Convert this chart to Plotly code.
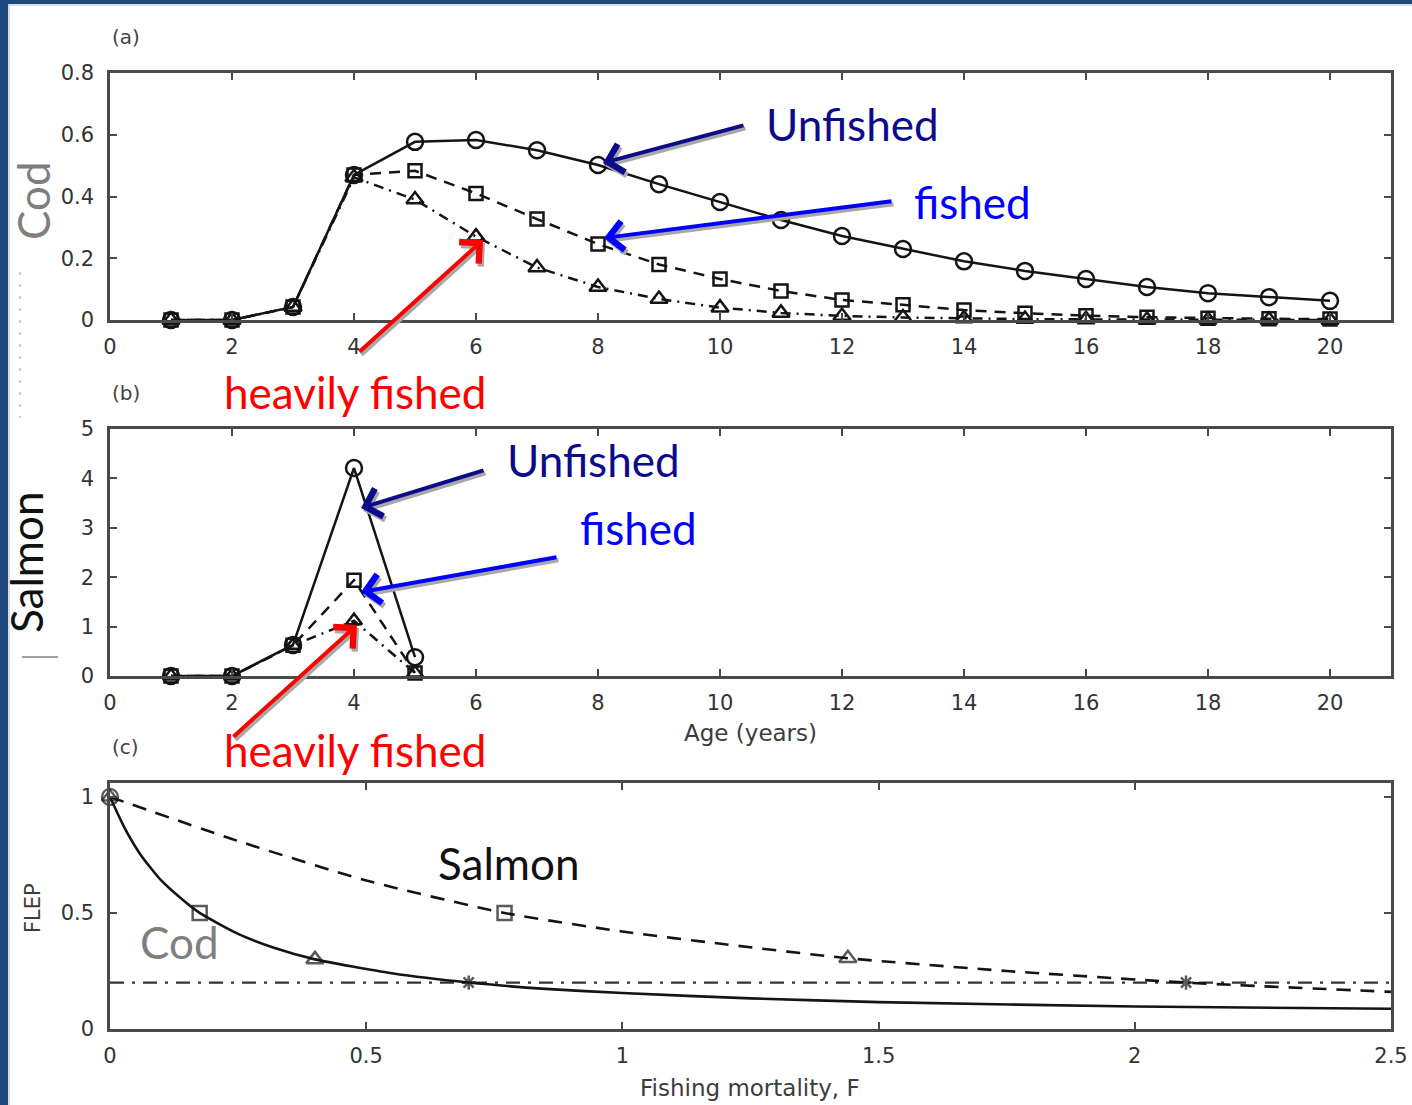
import plotly.graph_objects as go

W, H = 1412, 1105

# ---------------- data ----------------
ages = list(range(1, 21))
cod_unfished = [0, 0, 0.042, 0.47, 0.577, 0.583, 0.55, 0.502, 0.44, 0.382, 0.324, 0.272,
                0.23, 0.19, 0.159, 0.133, 0.107, 0.087, 0.074, 0.062]
cod_fished = [0, 0, 0.042, 0.47, 0.483, 0.41, 0.327, 0.246, 0.18, 0.133, 0.094, 0.065,
              0.049, 0.032, 0.022, 0.014, 0.009, 0.006, 0.004, 0.003]
cod_heavy = [0, 0, 0.042, 0.462, 0.39, 0.27, 0.17, 0.107, 0.068, 0.04, 0.023, 0.013,
             0.008, 0.005, 0.003, 0.002, 0.001, 0.001, 0.001, 0.0]

salmon_ages = [1, 2, 3, 4, 5]
salmon_unfished = [0, 0, 0.63, 4.21, 0.38]
salmon_fished = [0, 0, 0.62, 1.94, 0.06]
salmon_heavy = [0, 0, 0.62, 1.12, 0.06]

cod_F = [0, 0.03, 0.06, 0.1, 0.14, 0.175, 0.25, 0.32, 0.4, 0.55, 0.7, 0.85, 1.0, 1.25, 1.5, 2.0, 2.5]
cod_flep = [1.0, 0.86, 0.75, 0.64, 0.56, 0.5, 0.41, 0.35, 0.3, 0.24, 0.2, 0.173, 0.155, 0.132,
            0.116, 0.097, 0.087]
salmon_F = [0, 0.25, 0.5, 0.77, 1.0, 1.2, 1.44, 1.75, 2.1, 2.5]
salmon_flep = [1.0, 0.81, 0.64, 0.5, 0.42, 0.365, 0.305, 0.25, 0.2, 0.16]
ref_F = [0, 2.5]
ref_flep = [0.2, 0.2]

cod_mark_F = [0.175, 0.4, 0.7]
cod_mark_flep = [0.5, 0.3, 0.2]
salmon_mark_F = [0.77, 1.44, 2.1]
salmon_mark_flep = [0.5, 0.305, 0.2]
start_F = [0, 0]
start_flep = [1, 1]

age_ticks = list(range(0, 21, 2))
cod_yticks = [0, 0.2, 0.4, 0.6, 0.8]
cod_yticktext = ["0", "0.2", "0.4", "0.6", "0.8"]
salmon_yticks = [0, 1, 2, 3, 4, 5]
F_ticks = [0, 0.5, 1, 1.5, 2, 2.5]
F_ticktext = ["0", "0.5", "1", "1.5", "2", "2.5"]
flep_ticks = [0, 0.5, 1]
flep_ticktext = ["0", "0.5", "1"]


def px(x):
    return x / W


def py(y):
    return 1 - y / H


LINE = "#141414"
AXC = "#4a4a4a"
TICKFONT = dict(family="DejaVu Sans", size=21, color="#333333")

fig = go.Figure()


def add_series(x, y, xa, ya, symbol, size, dash):
    fig.add_trace(go.Scatter(
        x=x, y=y, xaxis=xa, yaxis=ya, mode="lines+markers", cliponaxis=False,
        line=dict(color=LINE, width=2.5, dash=dash),
        marker=dict(symbol=symbol, size=size, color=LINE, line=dict(width=2.5, color=LINE)),
        showlegend=False))


DASH = "11px,8px"
DASHDOT = "10px,6px,2px,6px"

add_series(ages, cod_heavy, "x", "y", "triangle-up-open", 15, DASHDOT)
add_series(ages, cod_fished, "x", "y", "square-open", 13, DASH)
add_series(ages, cod_unfished, "x", "y", "circle-open", 16, "solid")
add_series(salmon_ages, salmon_heavy, "x2", "y2", "triangle-up-open", 14, DASHDOT)
add_series(salmon_ages, salmon_fished, "x2", "y2", "square-open", 13, DASH)
add_series(salmon_ages, salmon_unfished, "x2", "y2", "circle-open", 16, "solid")

fig.add_trace(go.Scatter(x=ref_F, y=ref_flep, xaxis="x3", yaxis="y3", mode="lines",
                         line=dict(color="#333", width=2.4, dash="14px,8px,3px,8px"), showlegend=False))
fig.add_trace(go.Scatter(x=salmon_F, y=salmon_flep, xaxis="x3", yaxis="y3", mode="lines",
                         line=dict(color=LINE, width=2.6, dash="14px,10px", shape="spline", smoothing=0.6),
                         showlegend=False))
fig.add_trace(go.Scatter(x=cod_F, y=cod_flep, xaxis="x3", yaxis="y3", mode="lines", cliponaxis=False,
                         line=dict(color=LINE, width=2.6, shape="spline", smoothing=0.6), showlegend=False))
for fx, fy in ((cod_mark_F, cod_mark_flep), (salmon_mark_F, salmon_mark_flep)):
    fig.add_trace(go.Scatter(
        x=fx, y=fy, xaxis="x3", yaxis="y3", mode="markers", cliponaxis=False,
        marker=dict(symbol=["square-open", "triangle-up-open", "asterisk-open"], size=[14, 15, 12],
                    color=LINE, line=dict(width=2.5, color=LINE)),
        showlegend=False))
fig.add_trace(go.Scatter(
    x=start_F, y=start_flep, xaxis="x3", yaxis="y3", mode="markers", cliponaxis=False,
    marker=dict(symbol=["circle-open", "triangle-up-open"], size=[16, 14], color=LINE,
                line=dict(width=2.4, color=LINE)), showlegend=False))

xdom = [px(110), px(1391)]
axis_common = dict(showline=True, mirror="ticks", linecolor=AXC, linewidth=2.5,
                   ticks="inside", ticklen=7, tickwidth=1.5, tickcolor=AXC, automargin=False,
                   ticklabeloverflow="allow", showgrid=False, zeroline=False, tickfont=TICKFONT)

fig.update_layout(
    width=W, height=H, margin=dict(l=0, r=0, t=0, b=0, pad=0, autoexpand=False),
    paper_bgcolor="white", plot_bgcolor="white",
    xaxis=dict(domain=xdom, range=[0, 21], tickvals=age_ticks, anchor="y",
               ticklabelstandoff=6, **axis_common),
    yaxis=dict(domain=[py(320), py(73)], range=[0, 0.8], tickvals=cod_yticks, ticktext=cod_yticktext,
               anchor="x", ticklabelstandoff=9, **axis_common),
    xaxis2=dict(domain=xdom, range=[0, 21], tickvals=age_ticks, anchor="y2",
                ticklabelstandoff=6, **axis_common),
    yaxis2=dict(domain=[py(676), py(429)], range=[0, 5], tickvals=salmon_yticks, anchor="x2",
                ticklabelstandoff=9, **axis_common),
    xaxis3=dict(domain=xdom, range=[0, 2.5], tickvals=F_ticks, ticktext=F_ticktext, anchor="y3",
                ticklabelstandoff=6, **axis_common),
    yaxis3=dict(domain=[py(1029), py(783)], range=[0, 1.06], tickvals=flep_ticks, ticktext=flep_ticktext,
                anchor="x3", ticklabelstandoff=9, **axis_common),
)

anns = []


def label(text, x, y, size, color, family="Lato", xanchor="left", angle=0):
    anns.append(dict(text=text, x=px(x), y=py(y), xref="paper", yref="paper", showarrow=False,
                     xanchor=xanchor, yanchor="middle", textangle=angle,
                     font=dict(family=family, size=size, color=color)))


def arrow(tail, head, color):
    anns.append(dict(text="", x=px(head[0] + 2), y=py(head[1] + 3), xref="paper", yref="paper",
                     ax=tail[0] - head[0], ay=tail[1] - head[1], showarrow=True,
                     arrowhead=4, arrowsize=1.4, arrowwidth=4, arrowcolor="#a8a8a8", standoff=0))
    anns.append(dict(text="", x=px(head[0]), y=py(head[1]), xref="paper", yref="paper",
                     ax=tail[0] - head[0], ay=tail[1] - head[1], showarrow=True,
                     arrowhead=4, arrowsize=1.4, arrowwidth=4, arrowcolor=color, standoff=0))


NAVY = "#0c0c8a"
BLUE = "#0000ff"
RED = "#ff0000"

arrow((745, 125), (603, 163), NAVY)
arrow((893, 201), (604, 238), BLUE)
arrow((358, 353), (483, 240), RED)
arrow((485, 470), (361, 508), NAVY)
arrow((558, 557), (361, 592), BLUE)
arrow((232, 738), (357, 625), RED)

label("Unfished", 764, 124, 44, NAVY)
label("fished", 912, 202, 44, BLUE)
label("heavily fished", 222, 392, 44, RED)
label("Unfished", 505, 460, 44, NAVY)
label("fished", 578, 528, 44, BLUE)
label("heavily fished", 222, 750, 44, RED)
label("Salmon", 436, 863, 44, "#111111")
label("Cod", 138, 942, 44, "#7f7f7f")
label("Cod", 33, 201, 44, "#7f7f7f", xanchor="center", angle=-90)
label("Salmon", 26, 562, 44, "#111111", xanchor="center", angle=-90)

label("(a)", 126, 37, 20, "#444444", family="DejaVu Sans", xanchor="center")
label("(b)", 126, 393, 20, "#444444", family="DejaVu Sans", xanchor="center")
label("(c)", 126, 747, 20, "#444444", family="DejaVu Sans", xanchor="center")
label("Age (years)", 750, 733, 23, "#3c3c3c", family="DejaVu Sans", xanchor="center")
label("Fishing mortality, F", 750, 1088, 23, "#3c3c3c", family="DejaVu Sans", xanchor="center")
label("FLEP", 33, 908, 21, "#3c3c3c", family="DejaVu Sans", xanchor="center", angle=-90)

fig.update_layout(annotations=anns)

shapes = [
    dict(type="rect", xref="paper", yref="paper", x0=0, x1=1, y0=py(4), y1=1,
         fillcolor="#1f497d", line=dict(width=0), layer="above"),
    dict(type="rect", xref="paper", yref="paper", x0=0, x1=px(8), y0=0, y1=1,
         fillcolor="#1f497d", line=dict(width=0), layer="above"),
    dict(type="line", xref="paper", yref="paper", x0=px(9), x1=px(9), y0=0, y1=py(4),
         line=dict(color="#c9d3e3", width=1.5)),
    dict(type="line", xref="paper", yref="paper", x0=px(8), x1=1, y0=py(5), y1=py(5),
         line=dict(color="#c9d3e3", width=1.5)),
    dict(type="line", xref="paper", yref="paper", x0=px(20), x1=px(20), y0=py(272), y1=py(418),
         line=dict(color="#a0a0a0", width=1, dash="3px,9px")),
    dict(type="line", xref="paper", yref="paper", x0=px(22), x1=px(58), y0=py(657), y1=py(657),
         line=dict(color="#a0a0a0", width=2)),
]
fig.update_layout(shapes=shapes)

fig.write_html("out.html")
